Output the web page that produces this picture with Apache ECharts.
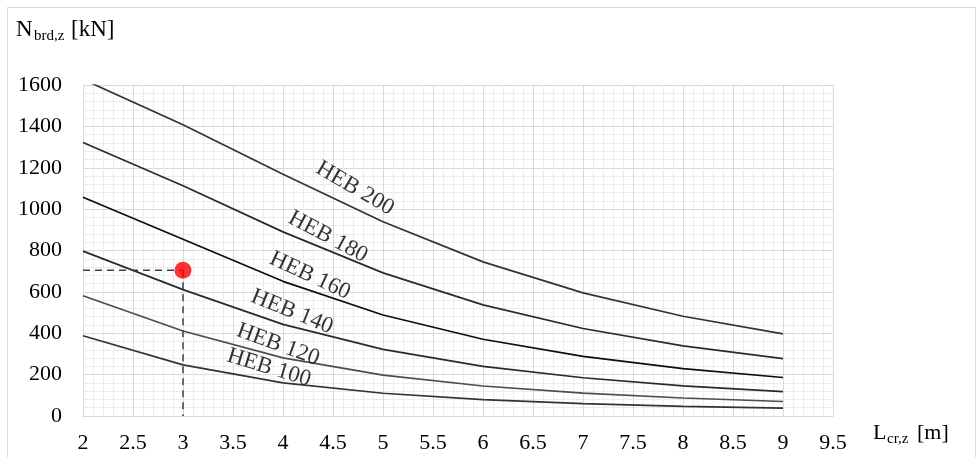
<!DOCTYPE html>
<html>
<head>
<meta charset="utf-8">
<script src="https://cdn.jsdelivr.net/npm/echarts@6/dist/echarts.min.js"></script>
<style>
    html, body { margin: 0; padding: 0; background: #fff; }
    #chart { width: 978px; height: 457px; }
</style>
</head>
<body>
<div id="chart"></div>
<script>
// buckling length Lcr,z [m]
const lengths = [2, 3, 4, 5, 6, 7, 8, 9];
const profiles = ["HEB 200", "HEB 180", "HEB 160", "HEB 140", "HEB 120", "HEB 100"];

// Nb,Rd,z [kN] per profile
const heb200 = [1627, 1408, 1169, 939, 745, 595, 482, 397];
const heb180 = [1322, 1113, 890, 692, 537, 423, 339, 277];
const heb160 = [1057, 854, 651, 488, 371, 288, 229, 186];
const heb140 = [797, 611, 443, 322, 240, 185, 146, 118];
const heb120 = [581, 411, 281, 198, 145, 111, 87, 70];
const heb100 = [388, 247, 160, 110, 79, 60, 47, 38];

// design point
const pointL = 3;
const pointN = 705;

const chart = echarts.init(document.getElementById("chart"));
const font = "Liberation Serif";

const curves = [heb200, heb180, heb160, heb140, heb120, heb100];
const lineColors = ["#333333", "#2a2a2a", "#0d0d0d", "#2a2a2a", "#4d4d4d", "#333333"];

// where the curve names sit (x, y in axis units) and their tilt
const labelPlace = [
    [4.72, 1100, -30],
    [4.45, 866, -28],
    [4.27, 678, -25],
    [4.09, 504, -22],
    [3.95, 345, -20],
    [3.86, 233, -17],
];

let series = curves.map(function (vals, i) {
    return {
        name: profiles[i],
        type: "line",
        data: lengths.map(function (l, j) { return [l, vals[j]]; }),
        showSymbol: false,
        symbol: "none",
        clip: true,
        lineStyle: { color: lineColors[i], width: 1.7 },
        z: 3,
    };
});

series.push({
    type: "scatter",
    symbolSize: 0,
    data: profiles.map(function (p, i) {
        return {
            value: [labelPlace[i][0], labelPlace[i][1]],
            label: { rotate: labelPlace[i][2] },
        };
    }),
    label: {
        show: true,
        position: "inside",
        formatter: function (p) { return profiles[p.dataIndex]; },
        fontFamily: font,
        fontSize: 23,
        color: "#000",
    },
    silent: true,
    z: 4,
});

series.push({
    type: "line",
    data: [[2, pointN], [pointL, pointN]],
    symbol: "none",
    lineStyle: { color: "#404040", width: 1.5, type: [7, 5] },
    z: 5,
});
series.push({
    type: "line",
    data: [[pointL, pointN], [pointL, 0]],
    symbol: "none",
    lineStyle: { color: "#404040", width: 1.5, type: [7, 5] },
    z: 5,
});
series.push({
    type: "scatter",
    data: [[pointL, pointN]],
    symbolSize: 17,
    itemStyle: { color: "#ff0000" },
    z: 6,
});

chart.setOption({
    backgroundColor: "#ffffff",
    animation: false,
    grid: { left: 83, top: 85, right: 145, bottom: 41 },
    xAxis: {
        type: "value",
        min: 2,
        max: 9.5,
        interval: 0.5,
        axisLine: { show: true, lineStyle: { color: "#d9d9d9" } },
        axisTick: { show: false },
        axisLabel: {
            fontFamily: font,
            fontSize: 22,
            color: "#000",
            margin: 16,
            formatter: function (v) { return String(v); },
        },
        splitLine: { show: true, lineStyle: { color: "#d9d9d9", width: 1 } },
        minorTick: { show: false, splitNumber: 5 },
        minorSplitLine: { show: true, lineStyle: { color: "#ececec", width: 1 } },
    },
    yAxis: {
        type: "value",
        min: 0,
        max: 1600,
        interval: 200,
        axisLine: { show: true, lineStyle: { color: "#d9d9d9" } },
        axisTick: { show: false },
        axisLabel: {
            fontFamily: font,
            fontSize: 22,
            color: "#000",
            margin: 21,
            formatter: function (v) { return String(v); },
        },
        splitLine: { show: true, lineStyle: { color: "#d9d9d9", width: 1 } },
        minorTick: { show: false, splitNumber: 5 },
        minorSplitLine: { show: true, lineStyle: { color: "#ececec", width: 1 } },
    },
    graphic: [
        {
            type: "rect",
            shape: { x: 7.5, y: 7.5, width: 968, height: 470 },
            style: { fill: "none", stroke: "#d9d9d9", lineWidth: 1 },
            silent: true,
        },
        { type: "text", x: 16, y: 18, style: { text: "N", font: "23px " + font, fill: "#000" } },
        { type: "text", x: 34, y: 29, style: { text: "brd,z", font: "15px " + font, fill: "#000" } },
        { type: "text", x: 71, y: 18, style: { text: "[kN]", font: "23px " + font, fill: "#000" } },
        { type: "text", x: 873, y: 422, style: { text: "L", font: "22px " + font, fill: "#000" } },
        { type: "text", x: 887, y: 432, style: { text: "cr,z", font: "15px " + font, fill: "#000" } },
        { type: "text", x: 917, y: 422, style: { text: "[m]", font: "22px " + font, fill: "#000" } },
    ],
    series: series,
});
</script>
</body>
</html>
